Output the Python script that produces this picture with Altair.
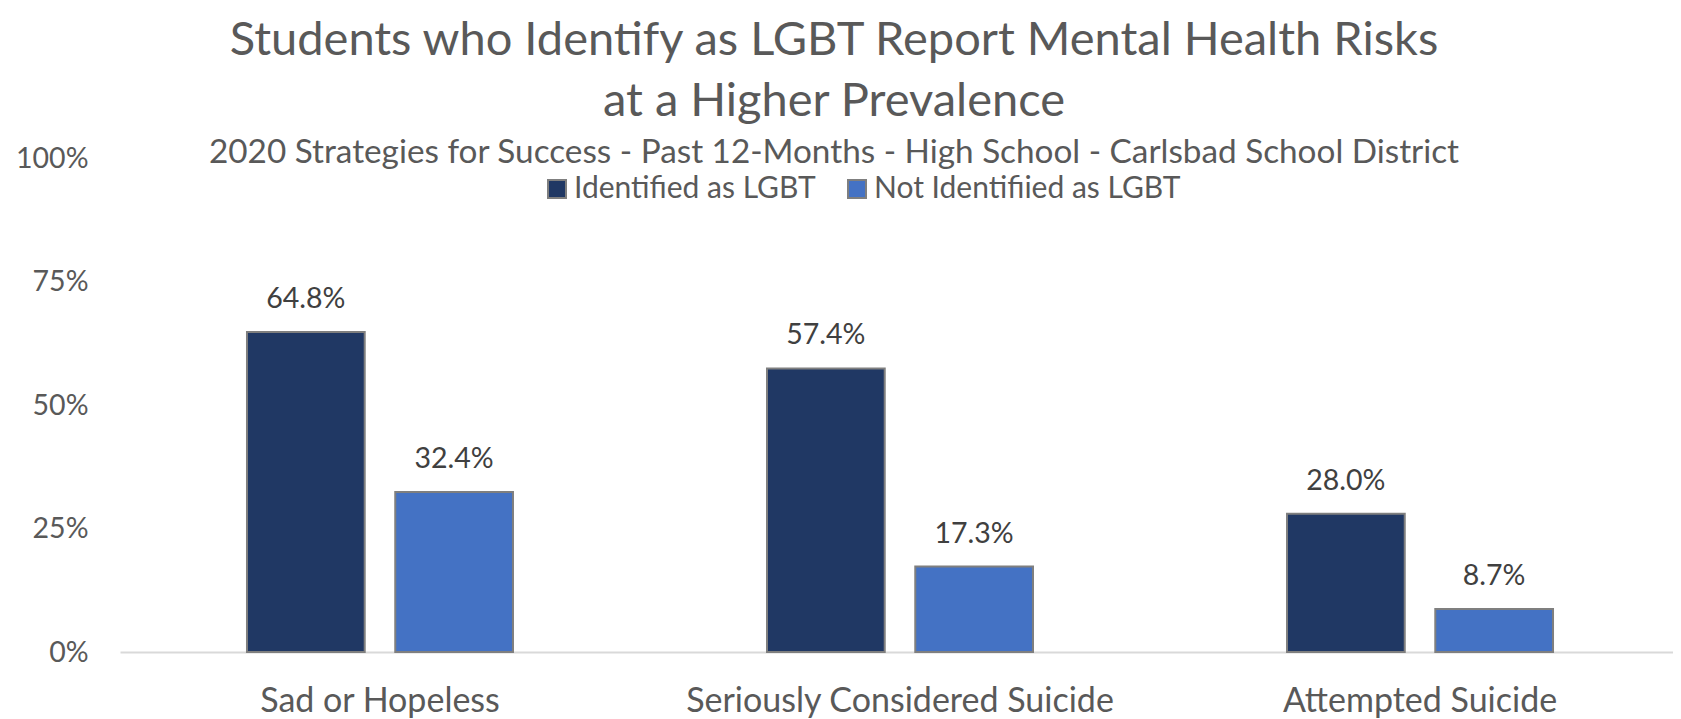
import altair as alt
import pandas as pd

categories = ["Sad or Hopeless", "Seriously Considered Suicide", "Attempted Suicide"]
series = ["Identified as LGBT", "Not Identifiied as LGBT"]
lgbt = [0.648, 0.574, 0.280]
not_lgbt = [0.324, 0.173, 0.087]
colors = ["#203864", "#4472c4"]
y_ticks = [0, 0.25, 0.5, 0.75, 1.0]

rows = []
for c, a, b in zip(categories, lgbt, not_lgbt):
    rows.append({"category": c, "series": series[0], "value": a})
    rows.append({"category": c, "series": series[1], "value": b})
df = pd.DataFrame(rows)

FONT = "Lato"
GREY = "#595959"

base = alt.Chart(df).encode(
    x=alt.X(
        "category:N",
        sort=categories,
        scale=alt.Scale(range=[0, 1560], paddingInner=0.4885, paddingOuter=0.2442),
        axis=alt.Axis(
            title=None, labelAngle=0, ticks=False, domainColor="#d9d9d9", domainWidth=2,
            labelFont=FONT, labelFontSize=34, labelColor=GREY, labelPadding=59,
            labelBaseline="alphabetic", labelLimit=0, grid=False,
        ),
    ),
    xOffset=alt.XOffset("series:N", sort=series, scale=alt.Scale(paddingInner=0.206, paddingOuter=0)),
    y=alt.Y(
        "value:Q",
        scale=alt.Scale(domain=[0, 1]),
        axis=alt.Axis(
            values=y_ticks, format=".0%", domain=False, ticks=False, grid=False,
            labelFont=FONT, labelFontSize=28.5, labelColor=GREY, labelPadding=32, title=None,
        ),
    ),
)

bars = base.mark_bar(stroke="#7f7f7f", strokeWidth=2).encode(
    color=alt.Color(
        "series:N",
        sort=series,
        scale=alt.Scale(domain=series, range=colors),
        legend=alt.Legend(
            orient="none", legendX=422, legendY=16, direction="horizontal", title=None,
            symbolType="square", symbolSize=324, symbolStrokeColor="#7f7f7f",
            symbolStrokeWidth=2, symbolOpacity=1, labelFont=FONT, labelFontSize=30,
            labelColor=GREY, labelOffset=2, columnPadding=26, padding=0, labelLimit=0,
        ),
    )
)

labels = base.mark_text(
    dy=-24, baseline="alphabetic", fontSize=28.5, color="#404040", font=FONT
).encode(text=alt.Text("value:Q", format=".1%"))

chart = alt.layer(bars, labels).properties(
    width=1552,
    height=494,
    title=alt.TitleParams(
        text=["Students who Identify as LGBT Report Mental Health Risks", "at a Higher Prevalence"],
        subtitle="2020 Strategies for Success - Past 12-Months - High School - Carlsbad School District",
        anchor="middle", frame="group", dx=-62, offset=-26,
        font=FONT, fontSize=47, fontWeight="normal", color=GREY, lineHeight=61,
        subtitleFont=FONT, subtitleFontSize=33.3, subtitleColor=GREY, subtitlePadding=11,
    ),
    autosize=alt.AutoSizeParams(type="none"),
    padding={"left": 112, "top": 150, "right": 1, "bottom": 67},
).configure_view(stroke=None)

chart.save("out.html", embed_options={"renderer": "svg", "actions": False})
